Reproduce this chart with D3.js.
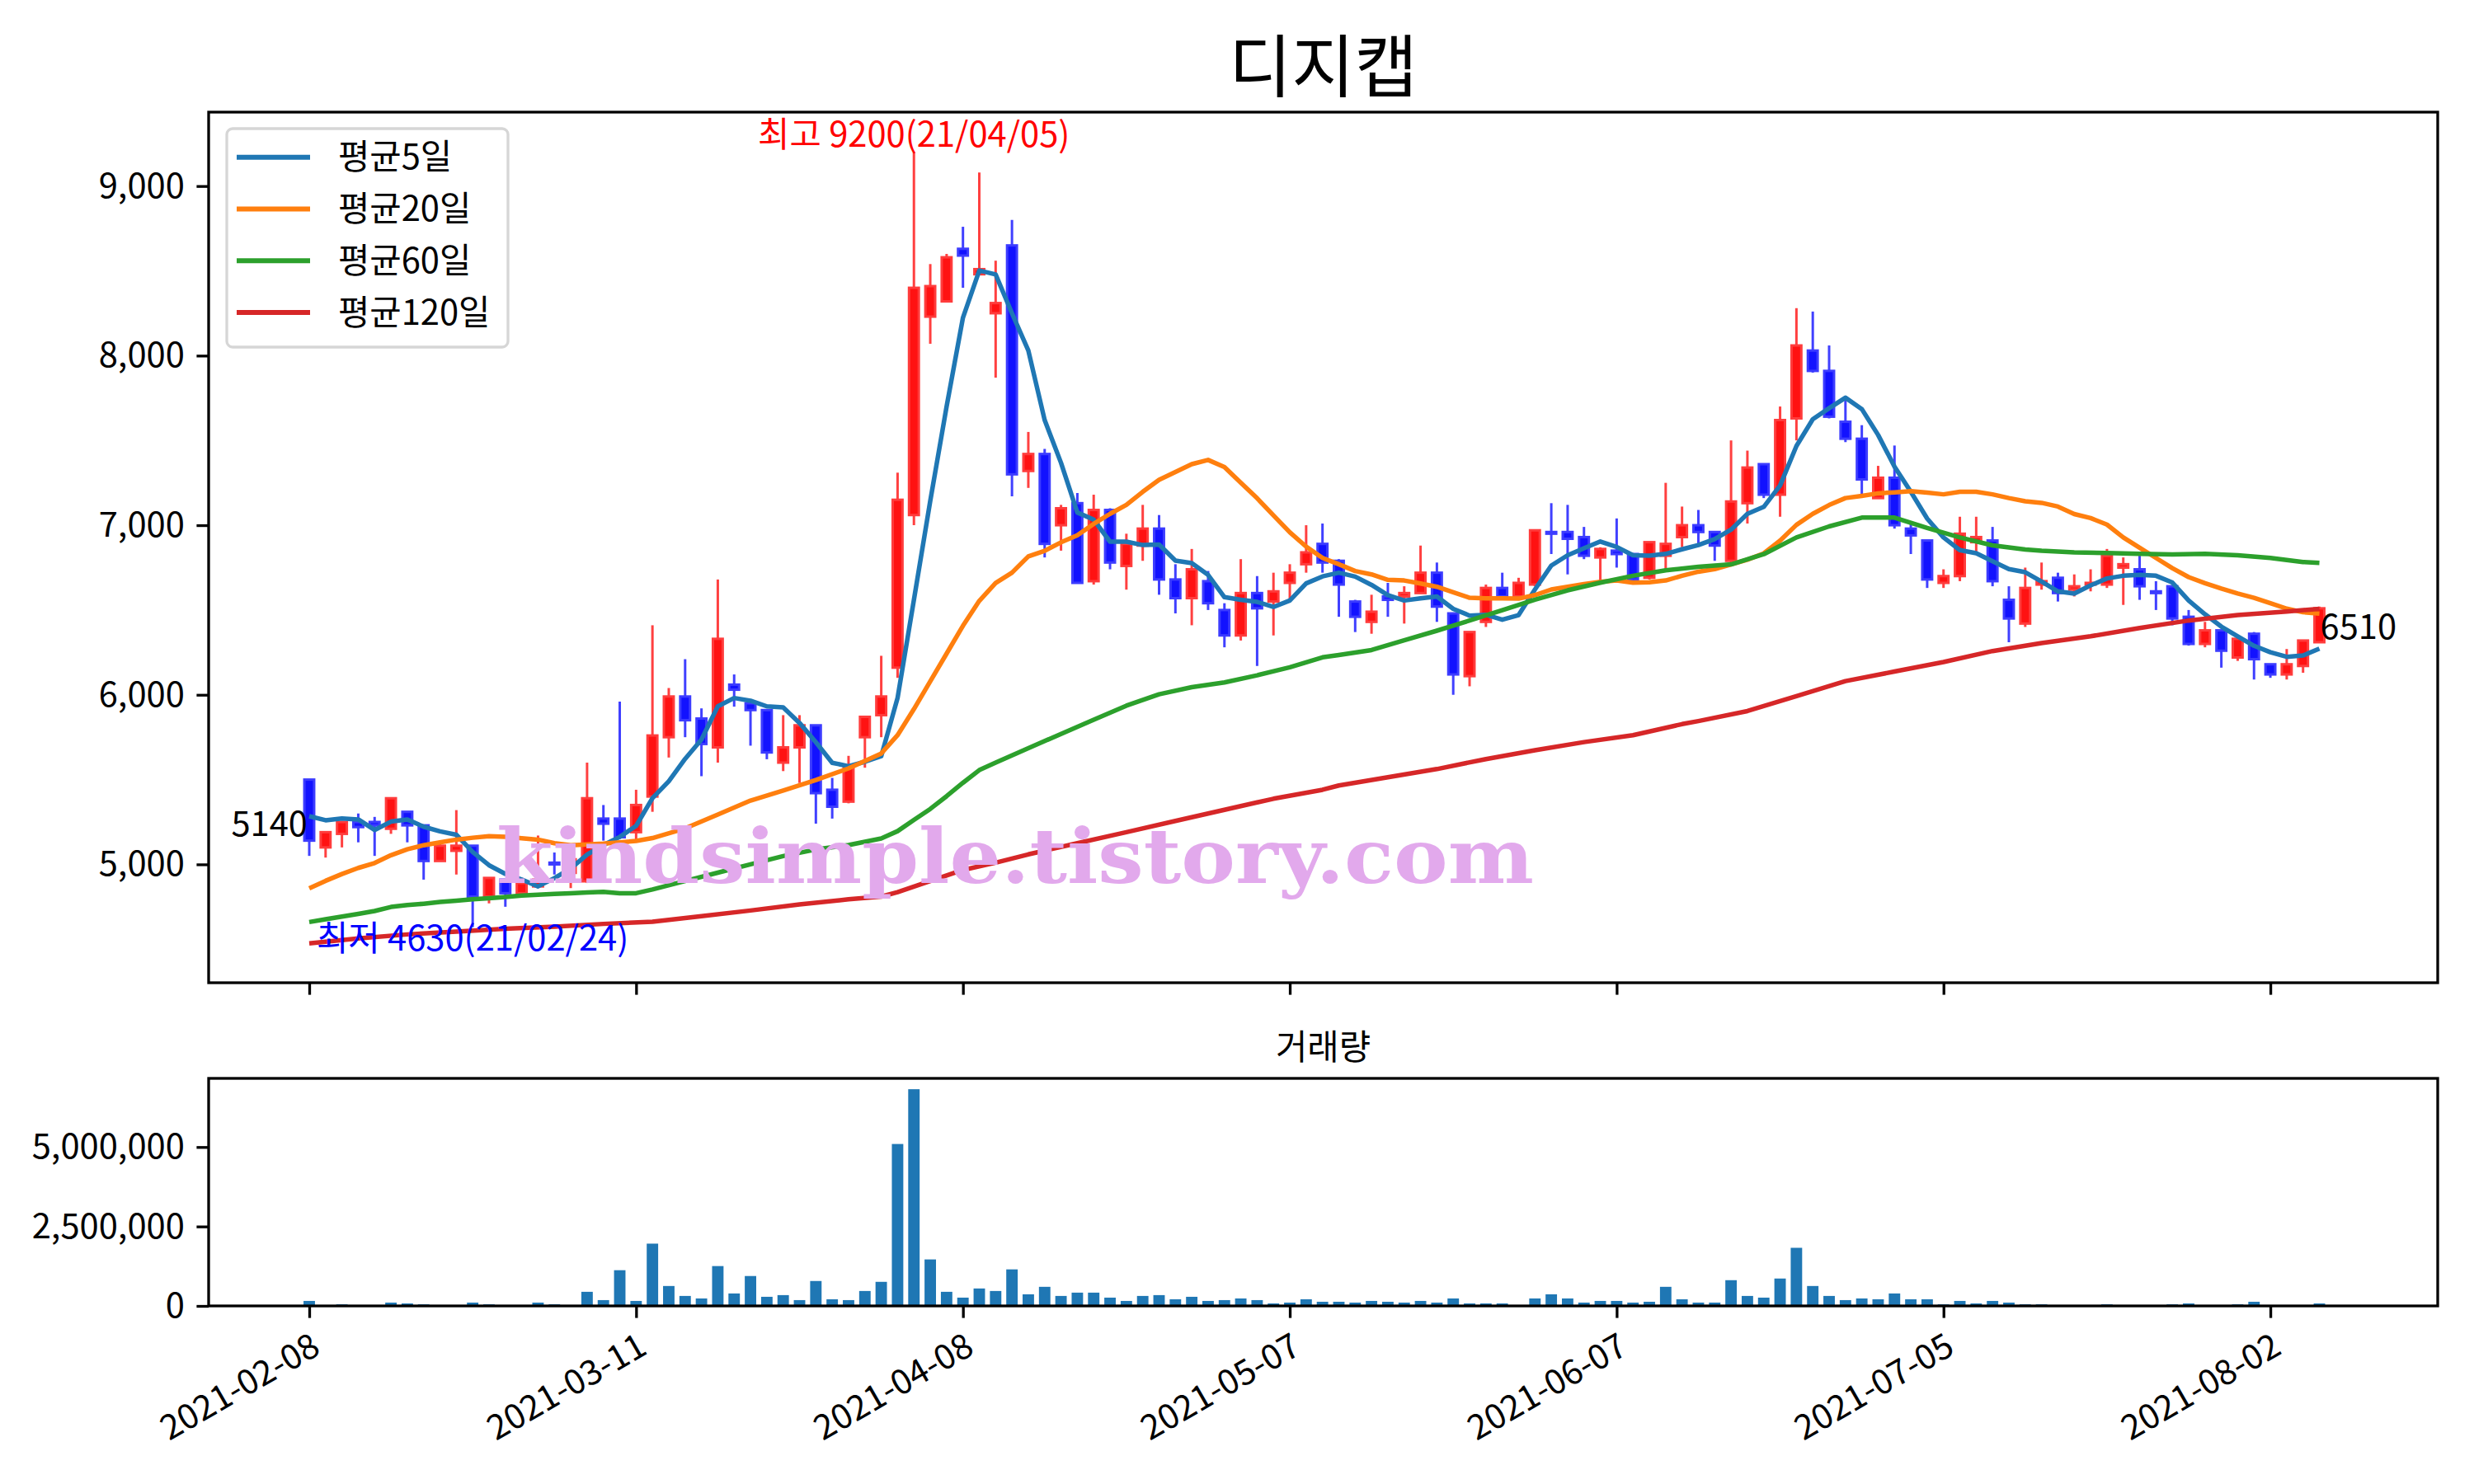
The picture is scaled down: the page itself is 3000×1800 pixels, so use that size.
<!DOCTYPE html>
<html>
<head>
<meta charset="utf-8">
<title>디지캡</title>
<script src="https://cdn.jsdelivr.net/npm/d3@7/dist/d3.min.js"></script>
<style>
  body { margin: 0; background: white; }
  svg text { font-family: "Noto Sans CJK KR", "Noto Sans", sans-serif; }
</style>
</head>
<body>
<div id="chart"></div>
<script>
// ---------- data (index = trading day) ----------
const title = "디지캡";
const tickIdx = [0, 20, 40, 60, 80, 100, 120];
const tickLabels = ["2021-02-08", "2021-03-11", "2021-04-08", "2021-05-07", "2021-06-07", "2021-07-05", "2021-08-02"];
const priceTicks = [5000, 6000, 7000, 8000, 9000];
const volumeTicks = [0, 2500000, 5000000];

const opens = [5500,5100,5180,5250,5250,5210,5310,5230,5020,5080,
  5110,4810,4910,4830,4870,5010,4950,4900,5270,5270,
  5190,5400,5750,5990,5860,5690,6060,5950,5910,5600,
  5690,5820,5440,5370,5750,5880,6160,7060,8230,8320,
  8630,8480,8250,8650,7320,7420,7000,7130,6670,7090,
  6760,6880,6980,6680,6570,6670,6500,6350,6600,6550,
  6660,6770,6890,6790,6550,6430,6580,6580,6600,6720,
  6480,6110,6430,6630,6580,6650,6960,6960,6930,6810,
  6850,6830,6690,6820,6930,7000,6960,6790,7130,7360,
  7180,7630,8030,7910,7610,7510,7160,7280,6980,6910,
  6660,6700,6900,6910,6560,6420,6650,6690,6620,6650,
  6650,6750,6740,6610,6640,6460,6300,6380,6220,6360,
  6180,6120,6170,6310];
const highs = [5500,5190,5250,5300,5280,5390,5310,5230,5140,5320,
  5110,4920,4910,4900,5170,5070,5090,5600,5350,5960,
  5440,6410,6040,6210,5920,6680,6120,5950,5910,5880,
  5880,5820,5510,5640,5870,6230,7310,9200,8540,8600,
  8760,9080,8560,8800,7550,7450,7120,7190,7180,7100,
  6950,7120,7060,6770,6860,6730,6540,6800,6700,6720,
  6770,7000,7010,6800,6560,6590,6660,6640,6880,6780,
  6480,6370,6650,6720,6690,6970,7130,7120,6990,6870,
  7040,6830,6900,7250,7110,7090,6960,7500,7440,7360,
  7700,8280,8260,8060,7750,7590,7350,7470,7020,6910,
  6740,7050,7050,6990,6640,6750,6780,6720,6710,6740,
  6860,6810,6820,6670,6640,6500,6430,6380,6330,6370,
  6180,6270,6320,6520];
const lows = [5050,5040,5100,5130,5050,5180,5130,4910,5020,4940,
  4630,4770,4750,4820,4860,4940,4860,4890,5140,5150,
  5130,5310,5630,5750,5520,5600,5930,5700,5620,5550,
  5480,5240,5270,5360,5570,5750,6100,7000,8070,8320,
  8400,8480,7870,7170,7220,6810,6850,6660,6650,6740,
  6620,6790,6590,6480,6410,6500,6280,6320,6170,6350,
  6560,6720,6720,6460,6370,6360,6460,6420,6600,6430,
  6000,6050,6400,6570,6570,6640,6830,6710,6800,6670,
  6750,6670,6680,6730,6870,6890,6790,6780,7010,7160,
  7050,7500,7900,7630,7490,7180,7160,6980,6830,6630,
  6630,6670,6840,6640,6310,6400,6620,6550,6580,6610,
  6630,6530,6560,6500,6410,6290,6280,6160,6200,6090,
  6100,6090,6130,6310];
const closes = [5140,5190,5250,5220,5230,5390,5230,5020,5110,5110,
  4810,4920,4830,4890,4910,5000,5030,5390,5240,5160,
  5350,5760,5990,5850,5710,6330,6030,5910,5660,5690,
  5820,5420,5340,5570,5870,5990,7150,8400,8410,8580,
  8590,8510,8310,7300,7420,6890,7100,6660,7090,6780,
  6890,6980,6680,6570,6740,6540,6350,6600,6510,6610,
  6720,6840,6780,6650,6460,6490,6560,6600,6720,6520,
  6120,6370,6630,6580,6660,6970,6950,6920,6820,6860,
  6830,6680,6900,6890,7000,6960,6880,7140,7340,7180,
  7620,8060,7910,7640,7510,7270,7280,7000,6940,6680,
  6700,6950,6930,6670,6450,6630,6670,6600,6640,6660,
  6820,6770,6640,6600,6450,6300,6380,6260,6330,6210,
  6120,6180,6320,6510];
const volumes = [157000,26000,52000,26000,10000,105000,78000,52000,26000,26000,
  105000,52000,26000,10000,105000,52000,10000,444000,183000,1124000,
  157000,1960000,627000,314000,235000,1254000,392000,941000,287000,340000,
  183000,784000,209000,183000,470000,758000,5096000,6820000,1463000,444000,
  261000,549000,470000,1150000,366000,601000,314000,418000,418000,261000,
  157000,314000,340000,209000,287000,157000,183000,235000,183000,78000,
  105000,209000,131000,131000,105000,157000,131000,105000,157000,105000,
  235000,78000,78000,78000,26000,235000,366000,235000,105000,157000,
  157000,105000,131000,601000,209000,105000,105000,810000,314000,261000,
  862000,1829000,627000,314000,183000,235000,209000,392000,209000,209000,
  52000,157000,78000,157000,105000,52000,52000,26000,8000,8000,
  52000,26000,26000,26000,52000,78000,26000,26000,52000,131000,
  26000,26000,26000,78000];

// moving averages
const ma5 = [5284,5260,5271,5265,5203,5252,5265,5222,5195,5175,
  5073,4995,4944,4911,4870,4919,4976,5057,5114,5162,
  5227,5390,5490,5622,5736,5932,5981,5965,5932,5926,
  5834,5720,5599,5579,5605,5638,5982,6560,7144,7700,
  8224,8502,8479,8250,8030,7620,7368,7075,7033,6903,
  6903,6883,6886,6791,6777,6707,6576,6560,6548,6518,
  6556,6657,6698,6720,6697,6648,6588,6556,6569,6580,
  6507,6467,6472,6443,6470,6621,6762,6823,6864,6904,
  6872,6823,6820,6831,6858,6883,6918,6974,7067,7108,
  7234,7467,7625,7690,7752,7685,7532,7346,7197,7039,
  6928,6853,6835,6788,6741,6723,6668,6610,6597,6645,
  6686,6702,6707,6702,6662,6556,6475,6402,6345,6289,
  6251,6224,6232,6272];
const ma20 = [[0,4859],[1,4903],[2,4943],[3,4979],[4,5008],[5,5054],[6,5089],[7,5113],[8,5130],[9,5146],
  [10,5157],[11,5166],[12,5162],[13,5154],[14,5146],[15,5125],[16,5113],[17,5118],[18,5122],[19,5130],
  [20,5138],[21,5155],[23,5212],[25,5294],[27,5376],[29,5435],[31,5497],[33,5566],[35,5654],[36,5762],
  [37,5916],[38,6080],[39,6243],[40,6407],[41,6554],[42,6659],[43,6720],[44,6816],[45,6849],[46,6899],
  [47,6941],[48,7008],[49,7067],[50,7120],[51,7197],[52,7268],[53,7314],[54,7360],[55,7385],[56,7343],
  [57,7251],[58,7159],[59,7058],[60,6958],[61,6874],[62,6807],[63,6770],[64,6730],[65,6710],[66,6678],
  [67,6674],[68,6656],[69,6637],[70,6605],[71,6572],[72,6569],[73,6569],[74,6567],[75,6588],[76,6621],
  [77,6637],[78,6653],[79,6666],[80,6674],[81,6661],[82,6664],[83,6674],[84,6702],[85,6726],[86,6741],
  [87,6769],[88,6797],[89,6834],[90,6909],[91,7002],[92,7067],[93,7119],[94,7160],[95,7173],[96,7188],
  [97,7194],[98,7201],[99,7192],[100,7182],[101,7197],[102,7197],[103,7182],[104,7160],[105,7141],[106,7132],
  [107,7110],[108,7066],[109,7042],[110,7004],[111,6928],[112,6867],[113,6807],[114,6747],[115,6694],[116,6658],
  [117,6626],[118,6597],[119,6572],[120,6540],[121,6508],[122,6487],[123,6479]];
const ma60 = [[0,4660],[1,4676],[2,4692],[3,4708],[4,4725],[5,4749],[6,4760],[7,4768],[8,4778],[9,4786],
  [10,4794],[11,4800],[12,4808],[13,4816],[14,4821],[15,4826],[16,4830],[17,4834],[18,4838],[19,4830],
  [20,4830],[21,4852],[23,4902],[25,4951],[27,5000],[29,5049],[31,5088],[33,5114],[35,5153],[36,5196],
  [37,5262],[38,5327],[39,5402],[40,5481],[41,5556],[42,5600],[44,5685],[46,5769],[48,5853],[50,5936],
  [52,6003],[54,6045],[56,6073],[58,6115],[60,6162],[62,6221],[63,6235],[65,6264],[67,6321],[69,6378],
  [71,6438],[73,6499],[75,6561],[77,6616],[79,6661],[81,6702],[83,6734],[85,6755],[87,6769],[89,6829],
  [91,6928],[93,6993],[95,7045],[97,7045],[99,6984],[101,6928],[103,6881],[105,6857],[106,6849],[108,6840],
  [110,6836],[112,6831],[114,6828],[116,6831],[118,6823],[120,6807],[122,6783],[123,6778]];
const ma120 = [[0,4534],[3,4563],[6,4587],[9,4603],[12,4620],[15,4633],[18,4649],[21,4662],[24,4695],[27,4728],
  [30,4764],[33,4794],[35,4810],[36,4836],[38,4902],[40,4967],[42,5010],[44,5059],[47,5125],[50,5190],
  [53,5256],[56,5322],[59,5387],[62,5440],[63,5465],[66,5514],[69,5562],[72,5621],[75,5673],[78,5721],
  [81,5762],[84,5827],[85,5845],[88,5904],[91,5992],[94,6081],[97,6137],[100,6193],[103,6258],[106,6305],
  [109,6345],[112,6394],[115,6438],[118,6470],[121,6491],[123,6507]];

const maNames = ["평균5일", "평균20일", "평균60일", "평균120일"];
const maColors = ["#1f77b4", "#ff7f0e", "#2ca02c", "#d62728"];

// ---------- layout ----------
const width = 3000, height = 1800;
const left = 253, right = 2956;
const priceTop = 136, priceBottom = 1192;
const volTop = 1308, volBottom = 1584;
const fs = 41.7;

const svg = d3.select("#chart").append("svg")
    .attr("width", width)
    .attr("height", height)
    .style("background", "white");

const x = d3.scaleLinear().domain([-6.156, 130.24]).range([left, right]);
const y = d3.scaleLinear().domain([4302, 9436]).range([priceBottom, priceTop]);
const yVol = d3.scaleLinear().domain([0, d3.max(volumes) * 1.05]).range([volBottom, volTop]);
const step = x(1) - x(0);
const idx = d3.range(closes.length);
const up = i => closes[i] >= opens[i];

// ---------- candles ----------
const candles = svg.append("g");
candles.selectAll("line")
    .data(idx)
    .join("line")
    .attr("x1", i => x(i)).attr("x2", i => x(i))
    .attr("y1", i => y(highs[i])).attr("y2", i => y(lows[i]))
    .attr("stroke", i => up(i) ? "#ff4040" : "#4040ff")
    .attr("stroke-width", 3);
candles.selectAll("rect")
    .data(idx)
    .join("rect")
    .attr("x", i => x(i) - step * 0.3)
    .attr("width", step * 0.6)
    .attr("y", i => y(Math.max(opens[i], closes[i])))
    .attr("height", i => Math.max(1, Math.abs(y(opens[i]) - y(closes[i]))))
    .attr("fill", i => up(i) ? "#ff1212" : "#1212ff")
    .attr("stroke", i => up(i) ? "#ff3c3c" : "#3c3cff")
    .attr("stroke-width", 3);

// ---------- moving averages ----------
const line = d3.line().x(d => x(d[0])).y(d => y(d[1]));
const maData = [ma5.map((v, i) => [i, v]), ma20, ma60, ma120];
svg.append("g")
    .selectAll("path")
    .data(maData)
    .join("path")
    .attr("d", d => line(d))
    .attr("fill", "none")
    .attr("stroke", (d, k) => maColors[k])
    .attr("stroke-width", 5.5)
    .attr("stroke-linejoin", "round");

// ---------- volume bars ----------
svg.append("g")
    .selectAll("rect")
    .data(idx)
    .join("rect")
    .attr("x", i => x(i) - step * 0.35)
    .attr("width", step * 0.7)
    .attr("y", i => yVol(volumes[i]))
    .attr("height", i => volBottom - yVol(volumes[i]))
    .attr("fill", "#1f77b4");

// ---------- axes ----------
function styleAxis(g) {
    g.select(".domain").remove();
    g.selectAll("line").attr("stroke", "black").attr("stroke-width", 3.3);
    g.selectAll("text").attr("font-size", fs).attr("fill", "black");
}
svg.append("g")
    .attr("transform", `translate(${left},0)`)
    .call(d3.axisLeft(y).tickValues(priceTicks).tickFormat(d3.format(",")).tickSize(14.6).tickPadding(14.6))
    .call(styleAxis);
svg.append("g")
    .attr("transform", `translate(${left},0)`)
    .call(d3.axisLeft(yVol).tickValues(volumeTicks).tickFormat(d3.format(",")).tickSize(14.6).tickPadding(14.6))
    .call(styleAxis);
svg.append("g")
    .attr("transform", `translate(0,${priceBottom})`)
    .call(d3.axisBottom(x).tickValues(tickIdx).tickFormat("").tickSize(14.6))
    .call(styleAxis);
svg.append("g")
    .attr("transform", `translate(0,${volBottom})`)
    .call(d3.axisBottom(x).tickValues(tickIdx).tickFormat(d => tickLabels[tickIdx.indexOf(d)]).tickSize(14.6))
    .call(styleAxis)
    .call(g => g.selectAll("text")
        .attr("x", 0).attr("y", 0).attr("dy", "0.72em")
        .attr("text-anchor", "end")
        .attr("transform", "translate(0,31) rotate(-30)"));

// spines
[[priceTop, priceBottom], [volTop, volBottom]].forEach(([t, b]) => {
    svg.append("rect")
        .attr("x", left).attr("y", t)
        .attr("width", right - left).attr("height", b - t)
        .attr("fill", "none").attr("stroke", "black").attr("stroke-width", 3.3);
});

// ---------- titles ----------
svg.append("text")
    .attr("x", (left + right) / 2).attr("y", 111)
    .attr("text-anchor", "middle").attr("font-size", 83)
    .text(title);
svg.append("text")
    .attr("x", (left + right) / 2).attr("y", 1285)
    .attr("text-anchor", "middle").attr("font-size", fs)
    .text("거래량");

// ---------- annotations ----------
const hiIdx = highs.indexOf(d3.max(highs));
const loIdx = lows.indexOf(d3.min(lows));
svg.append("text")
    .attr("x", x(hiIdx)).attr("y", y(highs[hiIdx]) - 7)
    .attr("text-anchor", "middle").attr("font-size", fs).attr("fill", "red")
    .text(`최고 ${highs[hiIdx]}(21/04/05)`);
svg.append("text")
    .attr("x", x(loIdx)).attr("y", y(lows[loIdx]) + 28)
    .attr("text-anchor", "middle").attr("font-size", fs).attr("fill", "blue")
    .text(`최저 ${lows[loIdx]}(21/02/24)`);
svg.append("text")
    .attr("x", x(0) - 2).attr("y", y(closes[0]) - 6)
    .attr("text-anchor", "end").attr("font-size", fs)
    .text(closes[0]);
const last = closes.length - 1;
svg.append("text")
    .attr("x", x(last) + 1).attr("y", y(closes[last]) + 37)
    .attr("font-size", fs)
    .text(closes[last]);

// ---------- legend ----------
const legend = svg.append("g");
legend.append("rect")
    .attr("x", 275).attr("y", 156).attr("width", 341).attr("height", 265)
    .attr("rx", 7).attr("fill", "white").attr("fill-opacity", 0.8)
    .attr("stroke", "#d6d6d6").attr("stroke-width", 3.3);
maNames.forEach((name, k) => {
    const ly = 190.7 + k * 62.8;
    legend.append("line")
        .attr("x1", 287).attr("x2", 376).attr("y1", ly).attr("y2", ly)
        .attr("stroke", maColors[k]).attr("stroke-width", 6);
    legend.append("text")
        .attr("x", 410).attr("y", ly).attr("dy", "0.35em")
        .attr("font-size", fs)
        .text(name);
});

// ---------- watermark ----------
svg.append("text")
    .attr("x", 602).attr("y", 1071)
    .attr("font-size", 92)
    .attr("font-weight", "bold")
    .style("font-family", "'DejaVu Serif', serif")
    .attr("fill", "#e2a9ec")
    .attr("textLength", 1258)
    .attr("lengthAdjust", "spacingAndGlyphs")
    .text("kindsimple.tistory.com");
</script>
</body>
</html>
